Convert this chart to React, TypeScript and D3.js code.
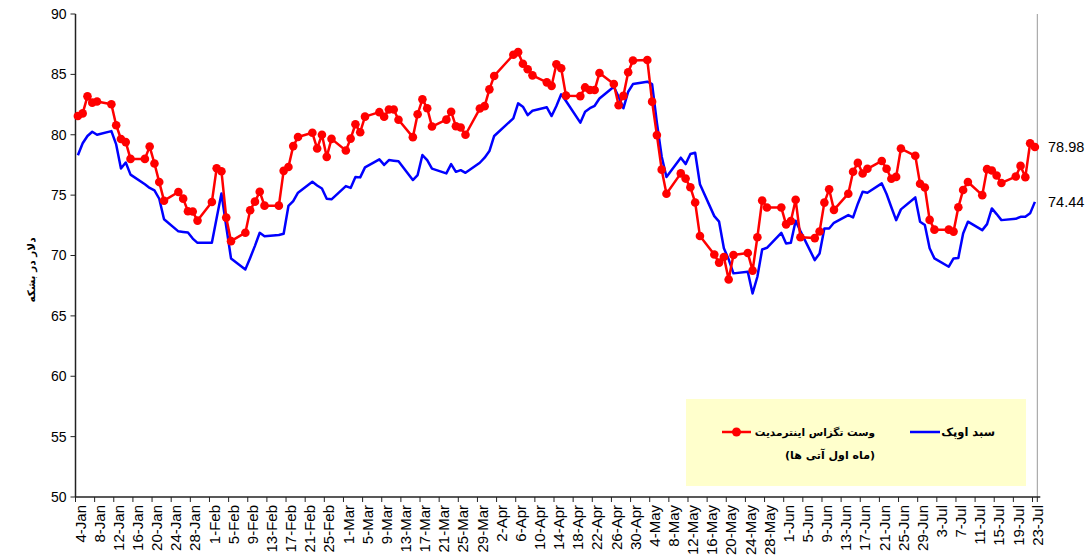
import React from "react";
import * as d3 from "d3";

const YEAR = 2010;
const AXIS_START = "2010-01-04";
const AXIS_END = "2010-07-24";

// West Texas Intermediate (front month futures) - red series
const wtiDates = [
  "01-04","01-05","01-06","01-07","01-08","01-11","01-12","01-13","01-14","01-15",
  "01-18","01-19","01-20","01-21","01-22","01-25","01-26","01-27","01-28","01-29",
  "02-01","02-02","02-03","02-04","02-05","02-08","02-09","02-10","02-11","02-12",
  "02-15","02-16","02-17","02-18","02-19","02-22","02-23","02-24","02-25","02-26",
  "03-01","03-02","03-03","03-04","03-05","03-08","03-09","03-10","03-11","03-12",
  "03-15","03-16","03-17","03-18","03-19","03-22","03-23","03-24","03-25","03-26",
  "03-29","03-30","03-31","04-01","04-05","04-06","04-07","04-08","04-09",
  "04-12","04-13","04-14","04-15","04-16","04-19","04-20","04-21","04-22","04-23",
  "04-26","04-27","04-28","04-29","04-30","05-03","05-04","05-05","05-06","05-07",
  "05-10","05-11","05-12","05-13","05-14","05-17","05-18","05-19","05-20","05-21",
  "05-24","05-25","05-26","05-27","05-28","05-31","06-01","06-02","06-03","06-04",
  "06-07","06-08","06-09","06-10","06-11","06-14","06-15","06-16","06-17","06-18",
  "06-21","06-22","06-23","06-24","06-25","06-28","06-29","06-30","07-01","07-02",
  "07-05","07-06","07-07","07-08","07-09","07-12","07-13","07-14","07-15","07-16",
  "07-19","07-20","07-21","07-22","07-23",
];
const wtiValues = [
  81.55, 81.77, 83.18, 82.66, 82.75, 82.52, 80.79, 79.65, 79.39, 78.0,
  78.0, 79.02, 77.62, 76.08, 74.54, 75.26, 74.71, 73.67, 73.64, 72.89,
  74.43, 77.23, 76.98, 73.14, 71.19, 71.89, 73.75, 74.46, 75.28, 74.13,
  74.13, 77.01, 77.33, 79.06, 79.81, 80.16, 78.86, 80.0, 78.17, 79.66,
  78.7, 79.68, 80.87, 80.21, 81.5, 81.87, 81.49, 82.09, 82.09, 81.24,
  79.8, 81.7, 82.93, 82.2, 80.68, 81.25, 81.91, 80.7, 80.6, 80.0,
  82.17, 82.37, 83.76, 84.87, 86.62, 86.84, 85.88, 85.42, 84.92,
  84.34, 84.05, 85.84, 85.51, 83.24, 83.2, 83.92, 83.7, 83.7, 85.12,
  84.2, 82.44, 83.22, 85.17, 86.15, 86.19, 82.74, 79.97, 77.11, 75.11,
  76.8, 76.37, 75.65, 74.39, 71.61, 70.08, 69.41, 69.87, 68.01, 70.04,
  70.21, 68.75, 71.51, 74.55, 73.97, 73.97, 72.58, 72.86, 74.61, 71.51,
  71.44, 71.99, 74.38, 75.48, 73.78, 75.12, 76.94, 77.67, 76.79, 77.18,
  77.83, 77.18, 76.35, 76.51, 78.86, 78.26, 75.94, 75.63, 72.95, 72.14,
  72.14, 71.98, 73.99, 75.43, 76.09, 75.0, 77.15, 77.04, 76.62, 76.01,
  76.54, 77.42, 76.49, 79.3, 78.98,
];

// OPEC reference basket - blue series
const opecDates = [
  "01-04","01-05","01-06","01-07","01-08","01-11","01-12","01-13","01-14","01-15",
  "01-18","01-19","01-20","01-21","01-22","01-25","01-26","01-27","01-28","01-29",
  "02-01","02-02","02-03","02-04","02-05","02-08","02-09","02-10","02-11","02-12",
  "02-15","02-16","02-17","02-18","02-19","02-22","02-23","02-24","02-25","02-26",
  "03-01","03-02","03-03","03-04","03-05","03-08","03-09","03-10","03-11","03-12",
  "03-15","03-16","03-17","03-18","03-19","03-22","03-23","03-24","03-25","03-26",
  "03-29","03-30","03-31","04-01","04-05","04-06","04-07","04-08","04-09",
  "04-12","04-13","04-14","04-15","04-16","04-19","04-20","04-21","04-22","04-23",
  "04-26","04-27","04-28","04-29","04-30","05-03","05-04","05-05","05-06","05-07",
  "05-10","05-11","05-12","05-13","05-14","05-17","05-18","05-19","05-20","05-21",
  "05-24","05-25","05-26","05-27","05-28","05-31","06-01","06-02","06-03","06-04",
  "06-07","06-08","06-09","06-10","06-11","06-14","06-15","06-16","06-17","06-18",
  "06-21","06-22","06-23","06-24","06-25","06-28","06-29","06-30","07-01","07-02",
  "07-05","07-06","07-07","07-08","07-09","07-12","07-13","07-14","07-15","07-16",
  "07-19","07-20","07-21","07-22","07-23",
];
const opecValues = [
  78.3, 79.3, 79.9, 80.25, 80.0, 80.3, 79.2, 77.2, 77.7, 76.7,
  75.9, 75.6, 75.4, 74.7, 73.0, 72.0, 71.95, 71.9, 71.4, 71.05,
  71.05, 73.1, 75.14, 72.4, 69.76, 68.85, 69.8, 70.8, 71.88, 71.6,
  71.7, 71.8, 74.1, 74.5, 75.2, 76.1, 75.8, 75.55, 74.7, 74.65,
  75.75, 75.6, 76.5, 76.47, 77.3, 77.96, 77.5, 77.9, 77.85, 77.8,
  76.25, 76.66, 78.32, 77.9, 77.2, 76.8, 77.57, 76.93, 77.07, 76.85,
  77.68, 78.1, 78.65, 79.9, 81.36, 82.6, 82.32, 81.63, 81.99,
  82.27, 81.55, 82.38, 83.35, 82.8, 81.0, 81.91, 82.2, 82.4, 83.0,
  83.98, 83.15, 82.19, 83.56, 84.2, 84.39, 84.2, 81.0, 78.2, 76.5,
  78.1, 77.57, 78.4, 78.51, 75.9, 73.26, 72.8, 70.6, 69.68, 68.52,
  68.65, 66.86, 68.24, 70.5, 70.64, 71.88, 71.0, 71.06, 72.88, 72.02,
  69.62, 70.17, 72.24, 72.24, 72.71, 73.35, 73.15, 74.29, 75.28, 75.2,
  75.97, 75.09, 74.0, 72.93, 73.82, 74.81, 72.8, 72.52, 70.6, 69.76,
  69.07, 69.76, 69.8, 71.83, 72.8, 72.1, 72.6, 73.9, 73.43, 72.93,
  73.04, 73.2, 73.2, 73.49, 74.44,
];

const yTicks = [50, 55, 60, 65, 70, 75, 80, 85, 90];
const yTitle = "دلار در بشکه";
const wtiLabel = "وست تگزاس اینترمدیت";
const wtiLabel2 = "(ماه اول آتی ها)";
const opecLabel = "سبد اوپک";

const LATIN = "'Liberation Sans', Arial, sans-serif";
const PERSIAN = "'DejaVu Sans', Tahoma, sans-serif";

export default function App() {
  const W = 1091;
  const H = 555;
  const left = 75.5;
  const right = 1037.3;
  const top = 14;
  const bottom = 497;

  const parse = d3.utcParse("%Y-%m-%d");
  const start = parse(AXIS_START) as Date;
  const end = parse(AXIS_END) as Date;
  const x = d3.scaleUtc().domain([start, end]).range([left, right]);
  const y = d3.scaleLinear().domain([50, 90]).range([bottom, top]);
  const dateOf = (s: string) => parse(`${YEAR}-${s}`) as Date;
  const cx = (s: string) => x(d3.utcHour.offset(dateOf(s), 12));

  const wtiLine = d3
    .line<number>()
    .x((_, i) => cx(wtiDates[i]))
    .y((v) => y(v));
  const opecLine = d3
    .line<number>()
    .x((_, i) => cx(opecDates[i]))
    .y((v) => y(v));

  const tickDates = d3.utcDay.range(start, end, 4);
  const fmt = d3.utcFormat("%-d-%b");
  const dayW = x(d3.utcDay.offset(start, 1)) - x(start);

  const lastWti = wtiValues[wtiValues.length - 1];
  const lastOpec = opecValues[opecValues.length - 1];

  return (
    <svg
      width={W}
      height={H}
      style={{ position: "absolute", left: 0, top: 0, background: "#fff" }}
    >
      {/* legend box */}
      <rect x={686} y={399} width={340} height={87} fill="#FFFFCC" />
      <line x1={722} x2={751} y1={432} y2={432} stroke="#FF0000" strokeWidth={2.5} />
      <circle cx={736.5} cy={432} r={4.5} fill="#FF0000" />
      <text
        x={875}
        y={432}
        dy="0.35em"
        textAnchor="end"
        fontFamily={PERSIAN}
        fontWeight="bold"
        fontSize={10.5}
      >
        {wtiLabel}
      </text>
      <text
        x={875}
        y={455}
        dy="0.35em"
        textAnchor="end"
        fontFamily={PERSIAN}
        fontWeight="bold"
        fontSize={11}
      >
        {wtiLabel2}
      </text>
      <line x1={910} x2={940} y1={432} y2={432} stroke="#0000FF" strokeWidth={2.5} />
      <text
        x={995}
        y={432}
        dy="0.35em"
        textAnchor="end"
        fontFamily={PERSIAN}
        fontWeight="bold"
        fontSize={11.5}
      >
        {opecLabel}
      </text>

      {/* right border */}
      <line x1={right} x2={right} y1={top} y2={bottom} stroke="#999" strokeWidth={1} />

      {/* y axis */}
      <line x1={left} x2={left} y1={top} y2={bottom} stroke="#222" strokeWidth={1.5} />
      {yTicks.map((t) => (
        <g key={t}>
          <line x1={left - 5} x2={left} y1={y(t)} y2={y(t)} stroke="#222" strokeWidth={1} />
          <text
            x={left - 9}
            y={y(t)}
            dy="0.35em"
            textAnchor="end"
            fontFamily={LATIN}
            fontSize={14}
            fill="#000"
          >
            {t}
          </text>
        </g>
      ))}
      <text
        transform={`translate(31,270) rotate(-90)`}
        textAnchor="middle"
        dy="0.35em"
        fontFamily={PERSIAN}
        fontWeight="bold"
        fontSize={10.5}
      >
        {yTitle}
      </text>

      {/* x axis */}
      <line x1={left} x2={right + 3} y1={bottom} y2={bottom} stroke="#222" strokeWidth={1.5} />
      {tickDates.map((d) => (
        <line
          key={"t" + d.getTime()}
          x1={x(d)}
          x2={x(d)}
          y1={bottom}
          y2={bottom + 5}
          stroke="#222"
          strokeWidth={1}
        />
      ))}
      <line x1={right} x2={right} y1={bottom} y2={bottom + 5} stroke="#222" strokeWidth={1} />
      {tickDates.map((d) => {
        const px = x(d) + dayW / 2 + 2.5;
        return (
          <text
            key={"l" + d.getTime()}
            transform={`translate(${px},${bottom + 8}) rotate(-90)`}
            textAnchor="end"
            dy="0.35em"
            fontFamily={LATIN}
            fontSize={15}
            fill="#000"
          >
            {fmt(d)}
          </text>
        );
      })}

      {/* series */}
      <path d={opecLine(opecValues) || ""} fill="none" stroke="#0000FF" strokeWidth={2.5} strokeLinejoin="round" />
      <path d={wtiLine(wtiValues) || ""} fill="none" stroke="#FF0000" strokeWidth={2.5} strokeLinejoin="round" />
      {wtiValues.map((v, i) => (
        <circle key={"m" + i} cx={cx(wtiDates[i])} cy={y(v)} r={4.3} fill="#FF0000" />
      ))}

      {/* end labels */}
      <text x={1048} y={y(lastWti)} dy="0.35em" fontFamily={LATIN} fontSize={14.5}>
        {lastWti.toFixed(2)}
      </text>
      <text x={1048} y={y(lastOpec)} dy="0.35em" fontFamily={LATIN} fontSize={14.5}>
        {lastOpec.toFixed(2)}
      </text>
    </svg>
  );
}
